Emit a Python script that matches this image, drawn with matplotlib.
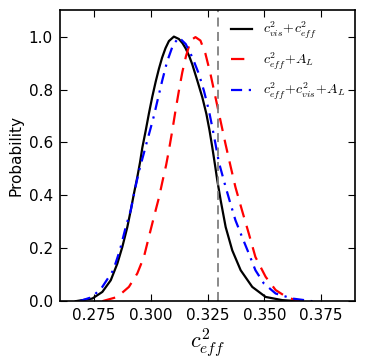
import matplotlib
matplotlib.use("Agg")
import matplotlib.pyplot as plt

plt.rcParams['mathtext.fontset'] = 'cm'

# c_vis^2 + c_eff^2
x_black = [0.2670, 0.2743, 0.2787, 0.2824, 0.2853, 0.2875, 0.2897, 0.2912, 0.2926,
           0.2941, 0.2953, 0.2963, 0.2978, 0.2992, 0.3007, 0.3022, 0.3036, 0.3050,
           0.3065, 0.3080, 0.3102, 0.3124, 0.3140, 0.3154, 0.3170, 0.3183, 0.3205,
           0.3227, 0.3245, 0.3259, 0.3271, 0.3283, 0.3293, 0.3308, 0.3330, 0.3359,
           0.3396, 0.3447, 0.3506, 0.3579, 0.3653]
y_black = [0.000, 0.010, 0.035, 0.079, 0.142, 0.205, 0.280, 0.343, 0.406,
           0.469, 0.525, 0.580, 0.645, 0.709, 0.773, 0.830, 0.878, 0.920,
           0.956, 0.983, 1.000, 0.991, 0.975, 0.955, 0.925, 0.895, 0.834,
           0.771, 0.708, 0.645, 0.582, 0.515, 0.457, 0.381, 0.280, 0.192,
           0.117, 0.054, 0.016, 0.004, 0.000]

# c_eff^2 + A_L
x_red = [0.2787, 0.2853, 0.2904, 0.2941, 0.2970, 0.2992, 0.3014, 0.3037, 0.3051,
         0.3068, 0.3080, 0.3095, 0.3110, 0.3125, 0.3139, 0.3155, 0.3170, 0.3183,
         0.3197, 0.3219, 0.3241, 0.3263, 0.3285, 0.3307, 0.3329, 0.3351, 0.3373,
         0.3402, 0.3432, 0.3461, 0.3506, 0.3550, 0.3601, 0.3653]
y_red = [0.000, 0.016, 0.054, 0.105, 0.167, 0.243, 0.318, 0.394, 0.450,
         0.515, 0.570, 0.645, 0.725, 0.800, 0.865, 0.925, 0.968, 0.990,
         0.998, 0.985, 0.935, 0.859, 0.771, 0.683, 0.595, 0.512, 0.431,
         0.343, 0.255, 0.167, 0.092, 0.042, 0.014, 0.001]

# c_eff^2 + c_vis^2 + A_L
x_blue = [0.2687, 0.2743, 0.2787, 0.2835, 0.2864, 0.2890, 0.2912, 0.2930, 0.2948,
          0.2970, 0.2984, 0.2999, 0.3014, 0.3027, 0.3051, 0.3072, 0.3098, 0.3124,
          0.3154, 0.3183, 0.3212, 0.3234, 0.3256, 0.3271, 0.3285, 0.3300, 0.3330,
          0.3351, 0.3373, 0.3402, 0.3432, 0.3461, 0.3498, 0.3550, 0.3623, 0.3712]
y_blue = [0.000, 0.016, 0.054, 0.117, 0.192, 0.280, 0.343, 0.420, 0.490,
          0.560, 0.605, 0.652, 0.700, 0.748, 0.835, 0.905, 0.968, 0.997,
          0.972, 0.922, 0.859, 0.796, 0.721, 0.658, 0.595, 0.525, 0.431,
          0.369, 0.306, 0.243, 0.180, 0.117, 0.067, 0.029, 0.010, 0.000]

x_ref = 0.3295
xticks = [0.275, 0.300, 0.325, 0.350, 0.375]
yticks = [0.0, 0.2, 0.4, 0.6, 0.8, 1.0]

fig = plt.figure(figsize=(3.65, 3.62), dpi=100)
ax = fig.add_axes([0.164, 0.168, 0.809, 0.804])

ax.plot(x_black, y_black, color='black', lw=1.6, ls='-',
        label=r'$c_{vis}^2\!+\!c_{eff}^2$')
ax.plot(x_red, y_red, color='red', lw=1.6, ls=(0, (6, 4)),
        label=r'$c_{eff}^2\!+\!A_L$')
ax.plot(x_blue, y_blue, color='blue', lw=1.6, ls=(0, (5, 3, 1, 3)),
        label=r'$c_{eff}^2\!+\!c_{vis}^2\!+\!A_L$')
ax.axvline(x_ref, color='grey', lw=1.3, ls=(0, (5, 3)))

ax.set_xlim(0.26, 0.39)
ax.set_ylim(0, 1.1)
ax.set_xticks(xticks)
ax.set_xticklabels(['%.3f' % t for t in xticks])
ax.set_yticks(yticks)
ax.set_yticklabels(['%.1f' % t for t in yticks])
ax.tick_params(direction='in', top=True, right=True, length=5, labelsize=11, pad=5)
for s in ax.spines.values():
    s.set_linewidth(1.2)

ax.set_xlabel(r'$c_{eff}^2$', fontsize=16, labelpad=2)
ax.set_ylabel('Probability', fontsize=11)

ax.legend(loc='upper right', frameon=False, fontsize=10, handlelength=1.5,
          handletextpad=0.8, labelspacing=0.7, borderaxespad=0.3)

fig.savefig('out.png', dpi=100)
